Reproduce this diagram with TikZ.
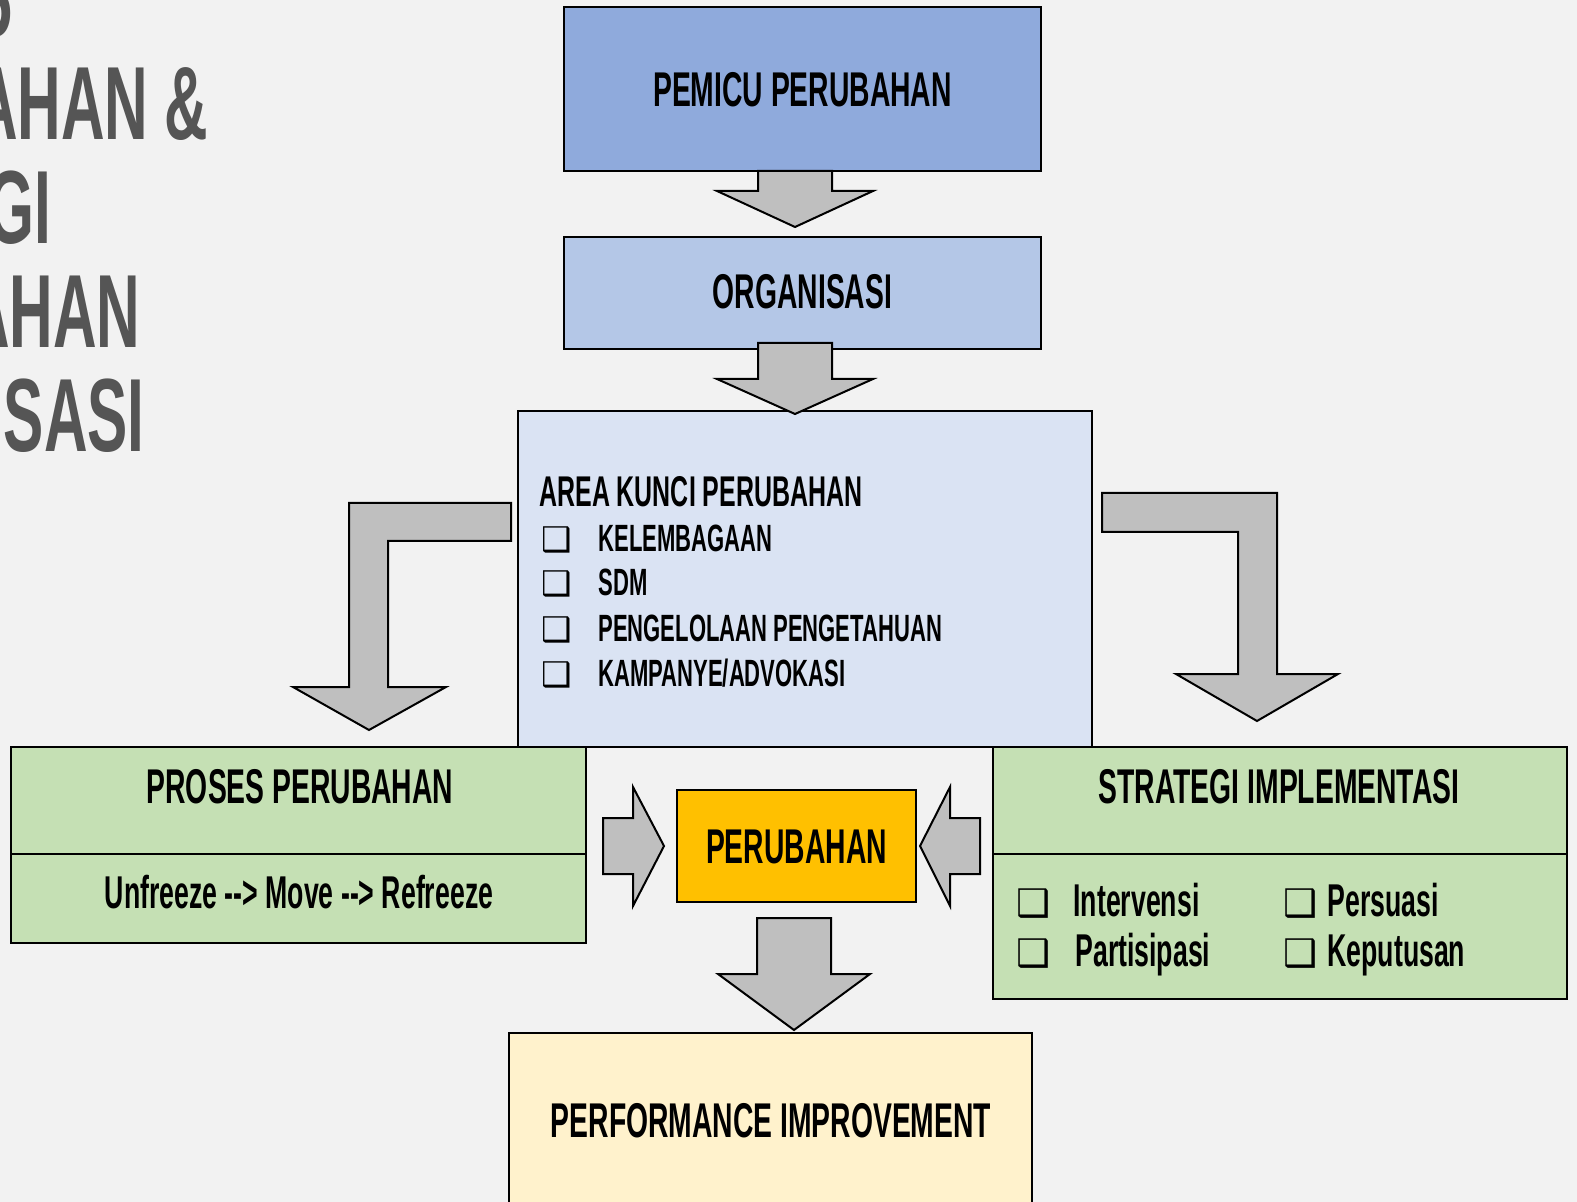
\documentclass[tikz,border=0pt]{standalone}
\usepackage{fontspec}
\setmainfont{Liberation Sans}[FakeStretch=0.58]
\newfontfamily\symf{DejaVu Sans}
\definecolor{bg}{HTML}{F2F2F2}
\definecolor{pemicuc}{HTML}{8FAADC}
\definecolor{orgc}{HTML}{B4C7E7}
\definecolor{areac}{HTML}{DAE3F3}
\definecolor{greenc}{HTML}{C5E0B4}
\definecolor{perc}{HTML}{FFC000}
\definecolor{perfc}{HTML}{FFF2CC}
\definecolor{arrowc}{HTML}{BFBFBF}
\definecolor{titlec}{HTML}{555555}
\newcommand\cbx{{\symf ❑}}
\newcommand\darr{-\kern0pt-\kern0pt>}
\tikzset{
  boxs/.style={draw=black, line width=1.1pt, inner sep=0pt, outer sep=0pt},
  blk/.style={draw=black, line width=1pt, fill=arrowc, line join=miter},
  hfont/.style={inner sep=0pt, font=\bfseries\fontsize{24.4}{28}\selectfont},
  lfont/.style={inner sep=0pt, font=\bfseries\fontsize{19}{23}\selectfont},
  sfont/.style={inner sep=0pt, font=\bfseries\fontsize{23}{26}\selectfont},
  cbfont/.style={inner sep=0pt, font=\fontsize{17}{20}\selectfont},
  cbfontb/.style={inner sep=0pt, font=\fontsize{19}{22}\selectfont},
  ttl/.style={inner sep=0pt, text=titlec, font=\bfseries\fontsize{52}{60}\selectfont},
}
\begin{document}
\begin{tikzpicture}[x=0.5pt,y=-0.5pt]
\useasboundingbox (0,0) rectangle (1577,1202);
\clip (0,0) rectangle (1577,1202);
\fill[bg] (0,0) rectangle (1577,1202);

% title (cut off at left edge)
\node[ttl, anchor=base east] (t1) at (13,63) {KONSEP};
\node[ttl, anchor=base east] (t2) at (209,140) {PERUBAHAN \&};
\node[ttl, anchor=base east] (t3) at (52,244) {STRATEGI};
\node[ttl, anchor=base east] (t4) at (141,348) {PERUBAHAN};
\node[ttl, anchor=base east] (t5) at (145,452) {ORGANISASI};

% boxes
\node[boxs, fill=pemicuc, minimum width=238.5pt, minimum height=82pt] (pemicu) at (802.5,89) {};
\node[hfont] (pemicut) at (802.5,90) {PEMICU PERUBAHAN};
\node[boxs, fill=orgc, minimum width=238.5pt, minimum height=56pt] (org) at (802.5,293) {};
\node[hfont] (orgt) at (802.5,292) {ORGANISASI};
\node[boxs, fill=areac, minimum width=287pt, minimum height=168pt] (area) at (805,579) {};

\node[boxs, fill=greenc, minimum width=287.5pt, minimum height=53.5pt] (prosesa) at (298.5,800.5) {};
\node[boxs, fill=greenc, minimum width=287.5pt, minimum height=44.5pt] (prosesb) at (298.5,898.5) {};
\node[boxs, fill=greenc, minimum width=287pt, minimum height=53.5pt] (strata) at (1280,800.5) {};
\node[boxs, fill=greenc, minimum width=287pt, minimum height=72.5pt] (stratb) at (1280,926.5) {};
\node[boxs, fill=perc, minimum width=119.5pt, minimum height=56pt] (per) at (796.5,846) {};
\node[hfont] (pert) at (796.5,846.5) {PERUBAHAN};
\node[boxs, fill=perfc, minimum width=261.5pt, minimum height=100pt] (perf) at (770.5,1133) {};

% area text
\node[inner sep=0pt, anchor=base west, font=\bfseries\fontsize{21.5}{25}\selectfont] (areat) at (539,507) {AREA KUNCI PERUBAHAN};
\node[cbfont, anchor=base west] (c1) at (541,552) {\cbx};
\node[lfont, anchor=base west] (i1) at (598,552) {KELEMBAGAAN};
\node[cbfont, anchor=base west] (c2) at (541,596) {\cbx};
\node[lfont, anchor=base west] (i2) at (598,596) {SDM};
\node[cbfont, anchor=base west] (c3) at (541,641) {\cbx};
\node[lfont, anchor=base west] (i3) at (598,641) {PENGELOLAAN PENGETAHUAN};
\node[cbfont, anchor=base west] (c4) at (541,686) {\cbx};
\node[lfont, anchor=base west] (i4) at (598,686) {KAMPANYE/ADVOKASI};

% proses text
\node[hfont, anchor=base] (prosest) at (300,803) {PROSES PERUBAHAN};
\node[inner sep=0pt, anchor=base, font=\bfseries\fontsize{23}{26}\selectfont] (prosesi) at (299,908) {Unfreeze \darr{} Move \darr{} Refreeze};

% strategi text
\node[hfont, anchor=base] (stratt) at (1279,803) {STRATEGI IMPLEMENTASI};
\node[cbfontb, anchor=base west] (s1c) at (1016,916) {\cbx};
\node[sfont, anchor=base west] (s1) at (1073,916) {Intervensi};
\node[cbfontb, anchor=base west] (s2c) at (1016,966) {\cbx};
\node[sfont, anchor=base west] (s2) at (1075,966) {Partisipasi};
\node[cbfontb, anchor=base west] (s3c) at (1283,916) {\cbx};
\node[sfont, anchor=base west] (s3) at (1327,916) {Persuasi};
\node[cbfontb, anchor=base west] (s4c) at (1283,966) {\cbx};
\node[sfont, anchor=base west] (s4) at (1327,966) {Keputusan};

% performance text
\node[hfont, anchor=base] (perft) at (771,1137) {PERFORMANCE IMPROVEMENT};

% block arrows
\draw[blk] (758,171) -- (758,191) -- (717,191) -- (795,227) -- (873,191) -- (832,191) -- (832,171) -- cycle;
\draw[blk] (758,343) -- (758,379) -- (717,379) -- (795,414) -- (873,379) -- (832,379) -- (832,343) -- cycle;
\draw[blk] (511,503) -- (349,503) -- (349,687) -- (293,687) -- (369,730) -- (446,687) -- (388,687) -- (388,541) -- (511,541) -- cycle;
\draw[blk] (1102,493) -- (1277,493) -- (1277,674) -- (1338,674) -- (1257,721) -- (1176,674) -- (1238,674) -- (1238,532) -- (1102,532) -- cycle;
\draw[blk] (603,818) -- (633,818) -- (633,787) -- (664,846) -- (633,906) -- (633,874) -- (603,874) -- cycle;
\draw[blk] (980,818) -- (950,818) -- (950,787) -- (920,846) -- (950,906) -- (950,874) -- (980,874) -- cycle;
\draw[blk] (757,918) -- (757,974) -- (718,974) -- (794,1030) -- (870,974) -- (831,974) -- (831,918) -- cycle;
\end{tikzpicture}
\end{document}
